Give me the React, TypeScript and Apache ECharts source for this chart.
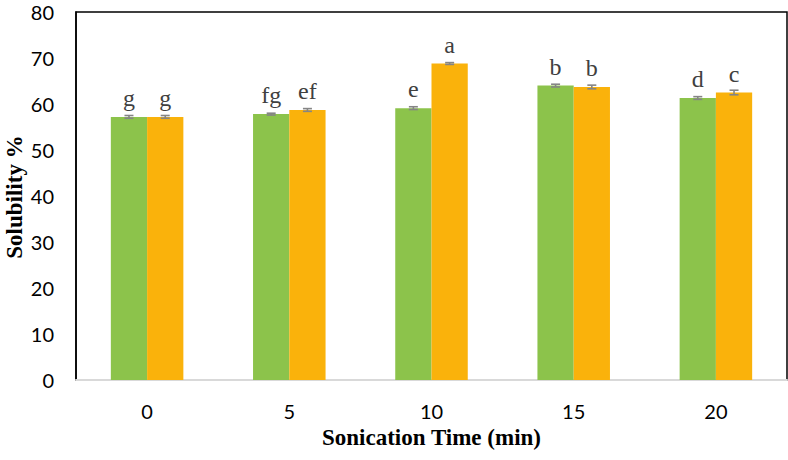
import React, { useEffect, useRef } from "react";
import * as echarts from "echarts";

const categories = ["0", "5", "10", "15", "20"];
const seriesA = [57.2, 57.8, 59.1, 64.0, 61.3];
const seriesB = [57.2, 58.7, 68.8, 63.7, 62.5];
const errA = [0.3, 0.2, 0.3, 0.3, 0.3];
const errB = [0.3, 0.3, 0.2, 0.4, 0.5];
const lettersA = ["g", "fg", "e", "b", "d"];
const lettersB = ["g", "ef", "a", "b", "c"];
const yTicks = [0, 10, 20, 30, 40, 50, 60, 70, 80];
const yTitle = "Solubility %";
const xTitle = "Sonication Time (min)";

const GREEN = "#8cc34b";
const ORANGE = "#fab20b";
const GAP = 0.49;

function errorSeries(values: number[], errs: number[], side: number) {
  return {
    type: "custom",
    z: 5,
    data: values.map((v, i) => [i, v, errs[i]]),
    renderItem: (params: any, api: any) => {
      const idx = api.value(0);
      const v = api.value(1);
      const e = api.value(2);
      const catW = api.size([1, 0])[0];
      const barW = (catW * (1 - GAP)) / 2;
      const cx = api.coord([idx, v])[0] + side * barW / 2;
      const yTop = api.coord([idx, v + e])[1];
      const yBot = api.coord([idx, v - e])[1];
      const half = 4.5;
      const style = { stroke: "#858585", lineWidth: 1.6 };
      return {
        type: "group",
        children: [
          { type: "line", shape: { x1: cx, y1: yTop, x2: cx, y2: yBot }, style },
          { type: "line", shape: { x1: cx - half, y1: yTop, x2: cx + half, y2: yTop }, style },
          { type: "line", shape: { x1: cx - half, y1: yBot, x2: cx + half, y2: yBot }, style },
        ],
      };
    },
  };
}

export default function App() {
  const ref = useRef<HTMLDivElement>(null);
  useEffect(() => {
    if (!ref.current) return;
    const chart = echarts.init(ref.current, null, { renderer: "svg" });
    const labelStyle = {
      show: true,
      position: "top",
      distance: 7,
      fontFamily: "Liberation Serif",
      fontSize: 24,
      color: "#404040",
    };
    chart.setOption({
      animation: false,
      grid: {
        left: 76,
        right: 1,
        top: 12,
        bottom: 80,
        show: true,
        borderColor: "#000",
        borderWidth: 1.5,
        backgroundColor: "transparent",
        outerBoundsMode: "none",
        containLabel: false,
      },
      graphic: [
        {
          type: "text",
          x: 14,
          y: 197,
          rotation: Math.PI / 2,
          style: {
            text: yTitle,
            align: "center",
            verticalAlign: "middle",
            fontFamily: "Liberation Serif",
            fontWeight: "bold",
            fontSize: 23,
            fill: "#000",
          },
        },
      ],
      xAxis: {
        type: "category",
        data: categories,
        axisLine: { show: true, lineStyle: { color: "#d9d9d9", width: 2 } },
        axisTick: { show: false },
        axisLabel: {
          fontFamily: "Lato",
          fontSize: 20,
          color: "#000",
          margin: 21,
        },
        name: xTitle,
        nameLocation: "middle",
        nameGap: 46,
        nameTextStyle: {
          fontFamily: "Liberation Serif",
          fontWeight: "bold",
          fontSize: 23,
          color: "#000",
        },
      },
      yAxis: {
        type: "value",
        min: yTicks[0],
        max: yTicks[yTicks.length - 1],
        interval: 10,
        splitLine: { show: false },
        axisLine: { show: true, lineStyle: { color: "#000", width: 1.5 } },
        axisTick: { show: false },
        axisLabel: {
          fontFamily: "Lato",
          fontSize: 20,
          color: "#000",
          margin: 22,
        },
      },
      series: [
        {
          type: "bar",
          data: seriesA,
          barGap: "0%",
          barCategoryGap: GAP * 100 + "%",
          itemStyle: { color: GREEN },
          label: { ...labelStyle, formatter: (p: any) => lettersA[p.dataIndex] },
        },
        {
          type: "bar",
          data: seriesB,
          barGap: "0%",
          barCategoryGap: GAP * 100 + "%",
          itemStyle: { color: ORANGE },
          label: { ...labelStyle, formatter: (p: any) => lettersB[p.dataIndex] },
        },
        errorSeries(seriesA, errA, -1),
        errorSeries(seriesB, errB, 1),
      ],
    });
    return () => chart.dispose();
  }, []);
  return (
    <div
      ref={ref}
      style={{ position: "fixed", left: 0, top: 0, width: 788, height: 460, background: "#fff" }}
    />
  );
}
